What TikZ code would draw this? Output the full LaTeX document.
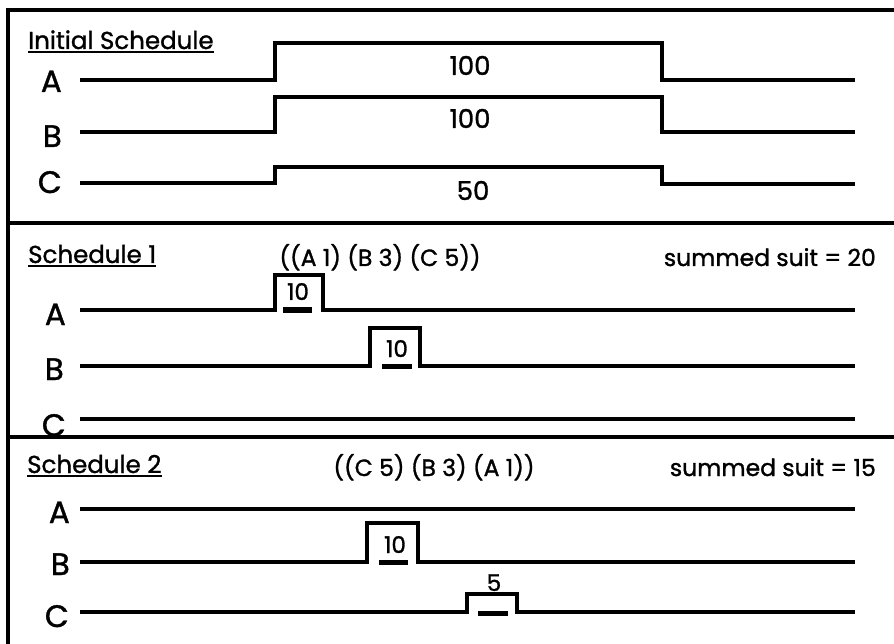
\documentclass[tikz,border=0pt]{standalone}
\usepackage{fontspec}
\setmainfont{Poppins}[FakeBold=1.2]
\begin{document}
\begin{tikzpicture}[x=1pt,y=-1pt,
  wave/.style={line width=3.4pt,line cap=butt,line join=miter},
  frame/.style={line width=3.6pt},
  bar/.style={line width=5pt},
  lbl/.style={inner sep=0pt,anchor=base east,font=\fontsize{31}{34}\selectfont},
  ttl/.style={inner sep=0pt,anchor=base west,font=\fontsize{24.5}{28}\selectfont},
  num/.style={inner sep=0pt,anchor=base,font=\fontsize{26}{30}\selectfont},
  small/.style={inner sep=0pt,anchor=base,font=\fontsize{23}{26}\selectfont},
  info/.style={inner sep=0pt,font=\fontsize{23.5}{27}\selectfont}]
\useasboundingbox[fill=white] (0,0) rectangle (894,644);

% ---------- Initial schedule ----------
\node[ttl] (t0) at (28,49) {Initial Schedule};
\draw[line width=2pt] ([yshift=-3pt]t0.base west) -- ([yshift=-3pt]t0.base east);
\node[lbl] (a0) at (62,92) {A};
\node[lbl] (b0) at (62,147) {B};
\node[lbl] (c0) at (62,193) {C};
\draw[wave] (80,80) -- (275,80) -- (275,43) -- (662,43) -- (662,80) -- (855,80);
\draw[wave] (80,132) -- (275,132) -- (275,97) -- (662,97) -- (662,132) -- (855,132);
\draw[wave] (80,183) -- (275,183) -- (275,167) -- (662,167) -- (662,184) -- (855,184);
\node[num] (n0a) at (470,75) {100};
\node[num] (n0b) at (470,128) {100};
\node[num] (n0c) at (473,200) {50};

% ---------- Schedule 1 ----------
\node[ttl] (t1) at (28,263) {Schedule 1};
\draw[line width=2pt] ([yshift=-3pt]t1.base west) -- ([yshift=-3pt]t1.base east);
\node[info,anchor=base] (f1) at (380,266) {((A 1) (B 3) (C 5))};
\node[info,anchor=base east] (s1) at (876,266) {summed suit = 20};
\node[lbl] (a1) at (66,325) {A};
\node[lbl] (b1) at (64,380) {B};
\node[lbl] (c1) at (66,436) {C};
\draw[wave] (80,310) -- (275,310) -- (275,275) -- (323,275) -- (323,310) -- (855,310);
\draw[bar] (283,310) -- (312,310);
\node[small] (p1a) at (298,300) {10};
\draw[wave] (80,366) -- (370,366) -- (370,328) -- (420,328) -- (420,366) -- (855,366);
\draw[bar] (382,366) -- (412,366);
\node[small] (p1b) at (397,357) {10};
\draw[wave] (80,419) -- (855,419);

% ---------- Schedule 2 ----------
\node[ttl] (t2) at (27,473) {Schedule 2};
\draw[line width=2pt] ([yshift=-3pt]t2.base west) -- ([yshift=-3pt]t2.base east);
\node[info,anchor=base] (f2) at (434,476) {((C 5) (B 3) (A 1))};
\node[info,anchor=base east] (s2) at (876,476) {summed suit = 15};
\node[lbl] (a2) at (70,523) {A};
\node[lbl] (b2) at (70,575) {B};
\node[lbl] (c2) at (69,627) {C};
\draw[wave] (80,509) -- (855,509);
\draw[wave] (80,562) -- (367,562) -- (367,523) -- (418,523) -- (418,562) -- (855,562);
\draw[bar] (379,562) -- (408,562);
\node[small] (p2b) at (395,553) {10};
\draw[wave] (80,612) -- (467,612) -- (467,594) -- (517,594) -- (517,612) -- (855,612);
\draw[bar] (478,613) -- (508,613);
\node[small] (p2c) at (494,591) {5};

% ---------- frame ----------
\draw[frame] (8,644) -- (8,10) -- (894,10);
\draw[frame] (8,223) -- (894,223);
\draw[frame] (8,437) -- (894,437);
\end{tikzpicture}
\end{document}
